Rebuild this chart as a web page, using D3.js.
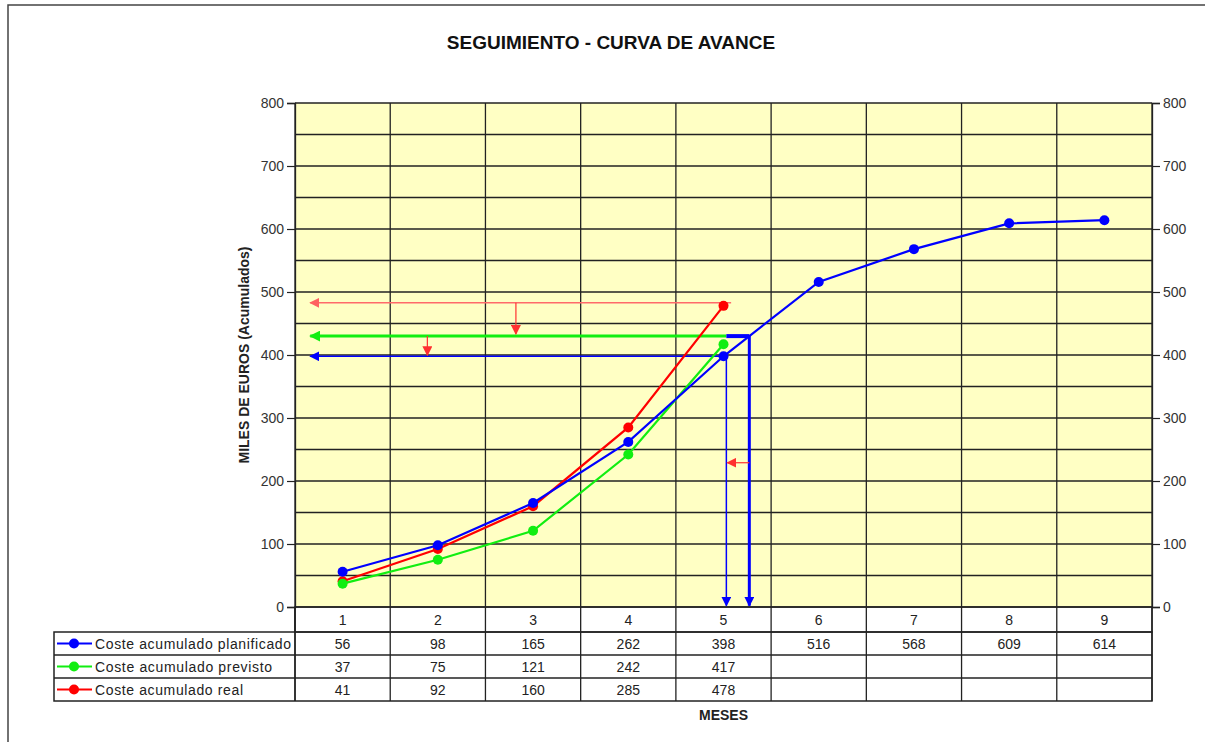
<!DOCTYPE html>
<html lang="es">
<head>
<meta charset="utf-8">
<style>
html, body {
    margin: 0;
    padding: 0;
    background: #fff;
}
svg {
    display: block;
    font-family: "Liberation Sans", Arial, sans-serif;
}
</style>
</head>
<body>
<svg width="1205" height="742"></svg>

<script src="https://cdn.jsdelivr.net/npm/d3@7/dist/d3.min.js"></script>
<script>
// Seguimiento - curva de avance (meses 1..9)

var meses = [1, 2, 3, 4, 5, 6, 7, 8, 9];
var planificado = [56, 98, 165, 262, 398, 516, 568, 609, 614];
var previsto = [37, 75, 121, 242, 417];
var real = [41, 92, 160, 285, 478];
var yTicks = [0, 100, 200, 300, 400, 500, 600, 700, 800];

var series = [
    {name: "Coste acumulado planificado", values: planificado, color: "#0000ff", len: 196},
    {name: "Coste acumulado previsto", values: previsto, color: "#11ee11", len: 177},
    {name: "Coste acumulado real", values: real, color: "#ff0000", len: 148}
];

// niveles de las flechas de lectura (miles de euros)
var nivelReal = real[4];
var nivelPrevisto = 430;
var nivelPlan = planificado[4];

var svg = d3.select("svg");

var pLeft = 295, pRight = 1152, pTop = 103, pBottom = 607;
var fs = 14;

var x = d3.scaleLinear().domain([0.5, 9.5]).range([pLeft, pRight]);
var y = d3.scaleLinear().domain([0, 800]).range([pBottom, pTop]);

// marco exterior
svg.append("path")
    .attr("d", "M8,742 V5 H1205")
    .attr("fill", "none")
    .attr("stroke", "#444")
    .attr("stroke-width", 1.5);

// titulo
svg.append("text")
    .attr("x", 611).attr("y", 49)
    .attr("text-anchor", "middle")
    .attr("font-size", 19).attr("font-weight", "bold")
    .attr("fill", "#111")
    .text("SEGUIMIENTO - CURVA DE AVANCE");

// fondo del area de trazado
svg.append("rect")
    .attr("x", pLeft).attr("y", pTop)
    .attr("width", pRight - pLeft).attr("height", pBottom - pTop)
    .attr("fill", "#ffffc4");

// rejilla horizontal cada 50
var grid = svg.append("g").attr("stroke", "#222").attr("stroke-width", 1.3);
d3.range(0, 801, 50).forEach(function(v) {
    grid.append("line")
        .attr("x1", pLeft).attr("x2", pRight)
        .attr("y1", y(v)).attr("y2", y(v));
});
// rejilla vertical entre meses (continua en la tabla)
d3.range(0.5, 9.6, 1).forEach(function(m) {
    grid.append("line")
        .attr("x1", x(m)).attr("x2", x(m))
        .attr("y1", pTop).attr("y2", 701);
});

// ejes
var yAxisL = d3.axisLeft(y).tickValues(yTicks).tickSize(8).tickPadding(3);
var yAxisR = d3.axisRight(y).tickValues(yTicks).tickSize(8).tickPadding(3);

var gL = svg.append("g").attr("transform", "translate(" + pLeft + ",0)").call(yAxisL);
var gR = svg.append("g").attr("transform", "translate(" + pRight + ",0)").call(yAxisR);
[gL, gR].forEach(function(g) {
    g.select(".domain").attr("stroke", "#222").attr("stroke-width", 1.3);
    g.selectAll(".tick line").attr("stroke", "#222").attr("stroke-width", 1.2);
    g.selectAll(".tick text").attr("font-size", fs).attr("fill", "#333")
        .attr("font-family", "Liberation Sans, Arial, sans-serif");
});

svg.append("text")
    .attr("transform", "translate(249," + ((pTop + pBottom) / 2) + ") rotate(-90)")
    .attr("text-anchor", "middle")
    .attr("font-size", 14).attr("font-weight", "bold")
    .attr("fill", "#222")
    .text("MILES DE EUROS (Acumulados)");

// flechas
var defs = svg.append("defs");
function marker(id, color, size) {
    defs.append("marker")
        .attr("id", id)
        .attr("viewBox", "0 0 10 10")
        .attr("refX", 9).attr("refY", 5)
        .attr("markerWidth", size).attr("markerHeight", size)
        .attr("markerUnits", "userSpaceOnUse")
        .attr("orient", "auto")
        .append("path")
        .attr("d", "M0,0 L10,5 L0,10 Z")
        .attr("fill", color);
}
marker("arRed", "#ff3030", 10);
marker("arRedL", "#ff6060", 10);
marker("arGreen", "#11ee11", 11);
marker("arBlue", "#0000ff", 10);

function arrow(x1, y1, x2, y2, color, w, mk) {
    svg.append("line")
        .attr("x1", x1).attr("y1", y1).attr("x2", x2).attr("y2", y2)
        .attr("stroke", color).attr("stroke-width", w)
        .attr("marker-end", "url(#" + mk + ")");
}

// mes en que la curva planificada alcanza el nivel previsto
var mesCruce = 5 + (nivelPrevisto - planificado[4]) / (planificado[5] - planificado[4]);
var mesInicio = 0.66;

arrow(x(5.08), y(nivelReal) - 3, x(mesInicio), y(nivelReal) - 3, "#ff6a6a", 1.5, "arRedL");
arrow(x(5.03), y(nivelPrevisto), x(mesInicio), y(nivelPrevisto), "#11ee11", 3, "arGreen");
arrow(x(5.0), y(nivelPlan), x(mesInicio), y(nivelPlan), "#0000ff", 1.5, "arBlue");

// tramo grueso azul y bajadas a los meses
svg.append("line")
    .attr("x1", x(5.03)).attr("x2", x(mesCruce))
    .attr("y1", y(nivelPrevisto)).attr("y2", y(nivelPrevisto))
    .attr("stroke", "#0000ff").attr("stroke-width", 4);
arrow(x(mesCruce), y(nivelPrevisto), x(mesCruce), y(2), "#0000ff", 3, "arBlue");
arrow(x(5.03), y(nivelPlan), x(5.03), y(2), "#0000ff", 1.5, "arBlue");

// flechas rojas de desviacion
arrow(x(2.82), y(nivelReal) - 3, x(2.82), y(nivelPrevisto) - 2, "#ff3030", 1.2, "arRed");
arrow(x(1.89), y(nivelPrevisto), x(1.89), y(nivelPlan) - 1, "#ff3030", 1.2, "arRed");
arrow(x(mesCruce), y(229), x(5.03) + 1, y(229), "#ff3030", 1.2, "arRed");

// series
var line = d3.line()
    .x(function(d, i) { return x(meses[i]); })
    .y(function(d) { return y(d); });

series.slice().reverse().forEach(function(s) {
    svg.append("path")
        .attr("d", line(s.values))
        .attr("fill", "none")
        .attr("stroke", s.color)
        .attr("stroke-width", 2.2);
    svg.append("g").selectAll("circle")
        .data(s.values)
        .join("circle")
        .attr("cx", function(d, i) { return x(meses[i]); })
        .attr("cy", function(d) { return y(d); })
        .attr("r", 5)
        .attr("fill", s.color);
});

// tabla de datos
var rowY = [607, 632, 655, 678, 701];
var tbl = svg.append("g");
tbl.append("rect")
    .attr("x", pLeft).attr("y", rowY[0])
    .attr("width", pRight - pLeft).attr("height", rowY[1] - rowY[0])
    .attr("fill", "none").attr("stroke", "#222").attr("stroke-width", 1.5);
tbl.append("rect")
    .attr("x", 54).attr("y", rowY[1])
    .attr("width", pRight - 54).attr("height", rowY[4] - rowY[1])
    .attr("fill", "none").attr("stroke", "#222").attr("stroke-width", 1.5);
[rowY[2], rowY[3]].forEach(function(ry) {
    tbl.append("line")
        .attr("x1", 54).attr("x2", pRight)
        .attr("y1", ry).attr("y2", ry)
        .attr("stroke", "#222").attr("stroke-width", 1.5);
});
tbl.append("line")
    .attr("x1", pLeft).attr("x2", pLeft)
    .attr("y1", rowY[0]).attr("y2", rowY[4])
    .attr("stroke", "#222").attr("stroke-width", 1.5);

tbl.selectAll("text.mes")
    .data(meses)
    .join("text")
    .attr("class", "mes")
    .attr("x", function(d) { return x(d); })
    .attr("y", (rowY[0] + rowY[1]) / 2 + 5)
    .attr("text-anchor", "middle")
    .attr("font-size", fs).attr("fill", "#222")
    .text(function(d) { return d; });

series.forEach(function(s, r) {
    var cy = (rowY[r + 1] + rowY[r + 2]) / 2;
    tbl.append("line")
        .attr("x1", 57).attr("x2", 92)
        .attr("y1", cy).attr("y2", cy)
        .attr("stroke", s.color).attr("stroke-width", 2.2);
    tbl.append("circle")
        .attr("cx", 74).attr("cy", cy).attr("r", 5)
        .attr("fill", s.color);
    tbl.append("text")
        .attr("x", 95).attr("y", cy + 5)
        .attr("font-size", fs).attr("fill", "#222")
        .attr("textLength", s.len).attr("lengthAdjust", "spacing")
        .text(s.name);
    tbl.append("g").selectAll("text")
        .data(s.values)
        .join("text")
        .attr("x", function(d, i) { return x(meses[i]); })
        .attr("y", cy + 5)
        .attr("text-anchor", "middle")
        .attr("font-size", fs).attr("fill", "#222")
        .text(function(d) { return d; });
});

svg.append("text")
    .attr("x", x(5)).attr("y", 720)
    .attr("text-anchor", "middle")
    .attr("font-size", 14).attr("font-weight", "bold")
    .attr("fill", "#222")
    .text("MESES");
</script>
</body>
</html>
